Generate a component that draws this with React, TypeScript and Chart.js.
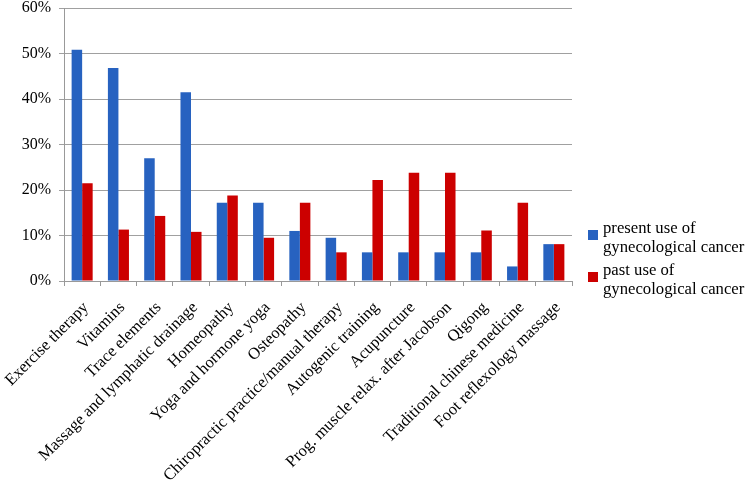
import { useEffect, useRef } from "react";
import { Chart, registerables } from "chart.js";

Chart.register(...registerables);

const categories = [
  "Exercise therapy",
  "Vitamins",
  "Trace elements",
  "Massage and lymphatic drainage",
  "Homeopathy",
  "Yoga and hormone yoga",
  "Osteopathy",
  "Chiropractic practice/manual therapy",
  "Autogenic training",
  "Acupuncture",
  "Prog. muscle relax. after Jacobson",
  "Qigong",
  "Traditional chinese medicine",
  "Foot reflexology massage",
];

const presentUse = [50.8, 46.8, 27.0, 41.5, 17.2, 17.2, 11.0, 9.5, 6.3, 6.3, 6.3, 6.3, 3.2, 8.1];
const pastUse = [21.5, 11.3, 14.3, 10.8, 18.8, 9.5, 17.2, 6.3, 22.2, 23.8, 23.8, 11.1, 17.2, 8.1];

const seriesLabels = [
  ["present use of", "gynecological cancer"],
  ["past use of", "gynecological cancer"],
];
const seriesColors = ["#2762C0", "#CC0000"];

const yMax = 60;
const yStep = 10;

const FONT = "'Liberation Serif', 'Times New Roman', serif";

const legendPlugin = {
  id: "sideLegend",
  afterDraw(chart: any) {
    const ctx = chart.ctx;
    const area = chart.chartArea;
    const x0 = area.right + 16;
    ctx.save();
    ctx.font = `16.7px ${FONT}`;
    ctx.textBaseline = "middle";
    ctx.textAlign = "left";
    const lineH = 19;
    const itemStarts = [228, 270];
    seriesLabels.forEach((lines, i) => {
      const y = itemStarts[i];
      ctx.fillStyle = seriesColors[i];
      ctx.fillRect(x0, y + 2, 10, 10);
      ctx.fillStyle = "#000";
      lines.forEach((t, j) => {
        ctx.fillText(t, x0 + 15, y + 1 + j * lineH);
      });
    });
    ctx.restore();
  },
};

export default function App() {
  const ref = useRef<HTMLCanvasElement>(null);
  useEffect(() => {
    if (!ref.current) return;
    const chart = new Chart(ref.current, {
      type: "bar",
      data: {
        labels: categories,
        datasets: [
          {
            label: seriesLabels[0].join(" "),
            data: presentUse,
            backgroundColor: seriesColors[0],
            barPercentage: 1,
            categoryPercentage: 0.58,
          },
          {
            label: seriesLabels[1].join(" "),
            data: pastUse,
            backgroundColor: seriesColors[1],
            barPercentage: 1,
            categoryPercentage: 0.58,
          },
        ],
      },
      options: {
        animation: false,
        responsive: false,
        layout: { padding: { top: 0, right: 173, left: 0, bottom: 0 } },
        plugins: {
          legend: { display: false },
          tooltip: { enabled: false },
        },
        scales: {
          x: {
            grid: {
              offset: true,
              drawOnChartArea: false,
              drawTicks: true,
              tickLength: 5,
              color: "#999999",
            },
            border: { color: "#999999" },
            ticks: {
              color: "#000",
              font: { family: FONT, size: 16.5 },
              minRotation: 45,
              maxRotation: 45,
              autoSkip: false,
              padding: 12,
              labelOffset: 4,
            },
            afterFit: (scale: any) => {
              scale.height = 204;
              scale.paddingLeft = 0;
              scale.paddingRight = 0;
            },
          },
          y: {
            min: 0,
            max: yMax,
            grid: {
              color: "#A0A0A0",
              tickLength: 5,
            },
            border: { color: "#999999" },
            ticks: {
              stepSize: yStep,
              color: "#000",
              font: { family: FONT, size: 16 },
              padding: 8,
              callback: (v: any) => `${v}%`,
            },
            afterFit: (scale: any) => {
              scale.width = 64;
              scale.paddingTop = 8;
              scale.paddingBottom = 0;
            },
          },
        },
      },
      plugins: [legendPlugin],
    });
    return () => chart.destroy();
  }, []);
  return (
    <div style={{ position: "absolute", left: 0, top: 0, width: 745, height: 485, background: "#fff" }}>
      <canvas ref={ref} width={745} height={485} style={{ display: "block" }} />
    </div>
  );
}
